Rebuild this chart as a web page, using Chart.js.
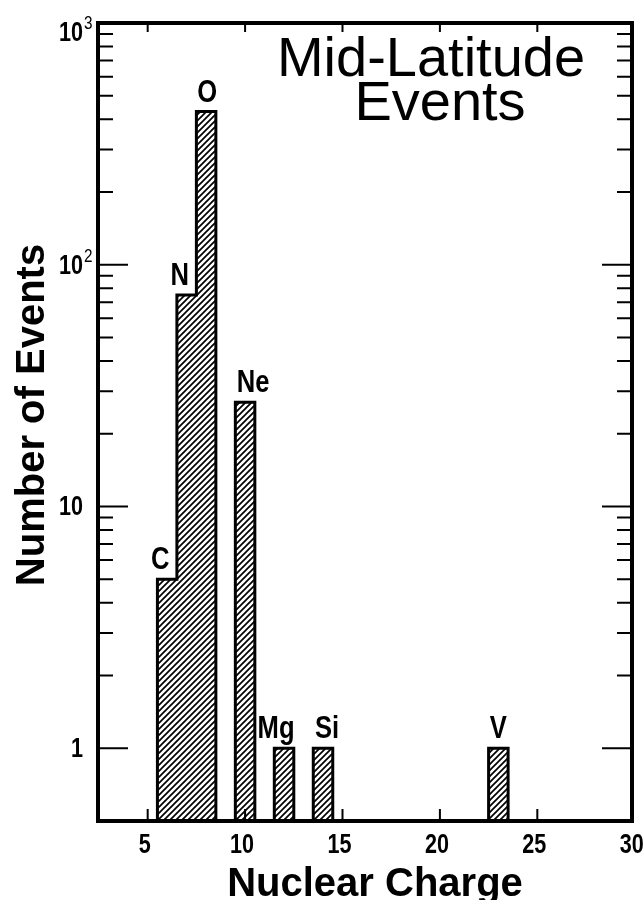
<!DOCTYPE html>
<html>
<head>
<meta charset="utf-8">
<script src="https://cdn.jsdelivr.net/npm/chart.js@4"></script>
<style>
  html, body { margin: 0; padding: 0; background: #fff; }
  #wrap { width: 644px; height: 900px; position: relative; }
</style>
</head>
<body>
<div id="wrap"><canvas id="chart"></canvas></div>
<script>
// Data
const charges  = [6, 7, 8, 10, 12, 14, 23];
const elements = ['C', 'N', 'O', 'Ne', 'Mg', 'Si', 'V'];
const counts   = [5, 75, 430, 27, 1, 1, 1];
const xTickValues = [5, 10, 15, 20, 25, 30];
const yMajorValues = [1, 10, 100, 1000];
const yTickBase = ['1', '10', '10', '10'];
const yTickExp  = ['', '', '2', '3'];
const titleLines = ['Mid-Latitude', 'Events'];
const xTitle = 'Nuclear Charge';
const yTitle = 'Number of Events';

const Y_MIN = 0.5, Y_MAX = 1000;
const SANS = '"Liberation Sans", Arial, sans-serif';

// small nudges for element labels (px)
const labelShift = { C: -7, N: -7, O: 1, Ne: 8, Mg: -8, Si: 4, V: 0 };

// Hatch pattern
function makeHatch() {
    const s = 6;
    const c = document.createElement('canvas');
    c.width = s; c.height = s;
    const g = c.getContext('2d');
    g.fillStyle = '#fff';
    g.fillRect(0, 0, s, s);
    g.strokeStyle = '#000';
    g.lineWidth = 1.7;
    g.beginPath();
    g.moveTo(-1, s + 1); g.lineTo(s + 1, -1);
    g.moveTo(-1, 1); g.lineTo(1, -1);
    g.moveTo(s - 1, s + 1); g.lineTo(s + 1, s - 1);
    g.stroke();
    return g.createPattern(c, 'repeat');
}

// Histogram outline built from the bars (contiguous groups share one outline)
function buildOutline() {
    const pts = [];
    let i = 0;
    while (i < charges.length) {
        let j = i;
        while (j + 1 < charges.length && charges[j + 1] === charges[j] + 1) j++;
        pts.push({ x: charges[i] - 0.5, y: Y_MIN });
        for (let k = i; k <= j; k++) {
            pts.push({ x: charges[k] - 0.5, y: counts[k] });
            pts.push({ x: charges[k] + 0.5, y: counts[k] });
        }
        pts.push({ x: charges[j] + 0.5, y: Y_MIN });
        pts.push({ x: charges[j] + 0.6, y: null });
        i = j + 1;
    }
    return pts;
}

// condensed text: Liberation Sans squeezed horizontally
function narrowText(ctx, text, x, y, font, sx, align) {
    ctx.save();
    ctx.translate(x, y);
    ctx.scale(sx, 1);
    ctx.font = font;
    ctx.textAlign = align;
    ctx.textBaseline = 'alphabetic';
    ctx.fillText(text, 0, 0);
    ctx.restore();
}

const decorPlugin = {
    id: 'decor',
    afterDatasetsDraw(chart) {
        const { ctx, chartArea: a, scales: { x, y } } = chart;
        ctx.save();
        ctx.strokeStyle = '#000';
        ctx.fillStyle = '#000';

        // frame
        ctx.lineWidth = 4;
        ctx.strokeRect(a.left, a.top, a.right - a.left, a.bottom - a.top);

        // x ticks (inward, top and bottom)
        ctx.lineWidth = 2;
        ctx.beginPath();
        xTickValues.forEach(v => {
            const px = x.getPixelForValue(v);
            if (px >= a.right - 2) return;
            ctx.moveTo(px, a.bottom); ctx.lineTo(px, a.bottom - 12);
            ctx.moveTo(px, a.top); ctx.lineTo(px, a.top + 9);
        });
        // y ticks (inward, left and right)
        yMajorValues.forEach(d => {
            if (d >= Y_MAX) return;
            const py = y.getPixelForValue(d);
            ctx.moveTo(a.left, py); ctx.lineTo(a.left + 30, py);
            ctx.moveTo(a.right, py); ctx.lineTo(a.right - 30, py);
            for (let m = 2; m <= 9; m++) {
                const pm = y.getPixelForValue(d * m);
                ctx.moveTo(a.left, pm); ctx.lineTo(a.left + 15, pm);
                ctx.moveTo(a.right, pm); ctx.lineTo(a.right - 15, pm);
            }
        });
        ctx.stroke();

        // x tick labels
        xTickValues.forEach(v => {
            const px = x.getPixelForValue(v) - 3;
            narrowText(ctx, String(v), px, a.bottom + 32, 'bold 27px ' + SANS, 0.8, 'center');
        });

        // y tick labels with superscripts
        yMajorValues.forEach((d, i) => {
            let py = y.getPixelForValue(d) + 9;
            if (d >= Y_MAX) py += 9;
            narrowText(ctx, yTickBase[i], 83, py, 'bold 27px ' + SANS, 0.8, 'right');
            if (yTickExp[i]) {
                narrowText(ctx, yTickExp[i], 84, py - 12, '18px ' + SANS, 0.85, 'left');
            }
        });

        // element labels
        elements.forEach((el, i) => {
            const px = x.getPixelForValue(charges[i]) + (labelShift[el] || 0);
            const py = y.getPixelForValue(counts[i]) - 10;
            narrowText(ctx, el, px, py, 'bold 32px ' + SANS, 0.8, 'center');
        });

        // in-plot title
        ctx.font = '56px ' + SANS;
        ctx.textAlign = 'center';
        ctx.textBaseline = 'alphabetic';
        ctx.fillText(titleLines[0], 431, 76);
        ctx.fillText(titleLines[1], 440, 120);

        // axis titles
        ctx.font = 'bold 40px ' + SANS;
        ctx.fillText(xTitle, 375, 896);
        ctx.save();
        ctx.translate(44, 415);
        ctx.rotate(-Math.PI / 2);
        ctx.fillText(yTitle, 0, 0);
        ctx.restore();

        ctx.restore();
    }
};

const ctx = document.getElementById('chart').getContext('2d');
new Chart(ctx, {
    data: {
        datasets: [{
            type: 'bar',
            data: charges.map((z, i) => ({ x: z, y: counts[i] })),
            backgroundColor: makeHatch(),
            borderWidth: 0,
            barPercentage: 1,
            categoryPercentage: 1,
            order: 2
        }, {
            type: 'line',
            data: buildOutline(),
            borderColor: '#000',
            borderWidth: 3,
            borderJoinStyle: 'miter',
            borderCapStyle: 'square',
            pointRadius: 0,
            tension: 0,
            spanGaps: false,
            fill: false,
            order: 1
        }]
    },
    options: {
        responsive: true,
        maintainAspectRatio: false,
        animation: false,
        layout: { padding: { top: 23, right: 12, left: 0, bottom: 0 } },
        plugins: { legend: { display: false }, tooltip: { enabled: false } },
        scales: {
            x: {
                type: 'linear',
                offset: false,
                min: 2.45,
                max: 29.86,
                grid: { display: false, drawTicks: false },
                border: { display: false },
                afterFit: s => { s.height = 79; },
                afterBuildTicks: s => { s.ticks = xTickValues.map(v => ({ value: v })); },
                ticks: { display: false }
            },
            y: {
                type: 'logarithmic',
                min: Y_MIN,
                max: Y_MAX,
                grid: { display: false, drawTicks: false },
                border: { display: false },
                afterFit: s => { s.width = 98; },
                ticks: { display: false }
            }
        }
    },
    plugins: [decorPlugin]
});
</script>
</body>
</html>
